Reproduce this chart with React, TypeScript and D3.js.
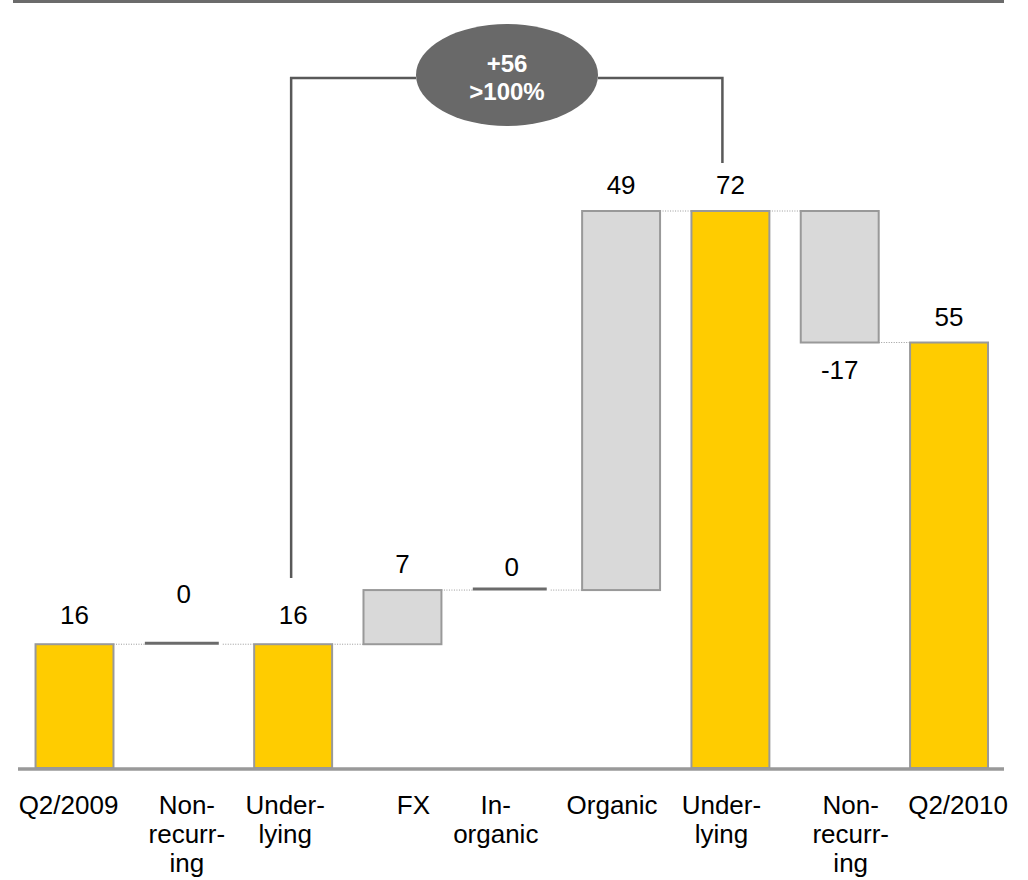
import React from "react";
import * as d3 from "d3";

const categories = ["Q2/2009", "Non-\nrecurr-\ning", "Under-\nlying", "FX", "In-\norganic", "Organic", "Under-\nlying", "Non-\nrecurr-\ning", "Q2/2010"];
const values = [16, 0, 16, 7, 0, 49, 72, -17, 55];
const kinds = ["total", "delta", "total", "delta", "delta", "delta", "total", "delta", "total"];
const valueLabels = ["16", "0", "16", "7", "0", "49", "72", "-17", "55"];
const bracketText = ["+56", ">100%"];

// layout tweaks (pixels), not data
const labelDx = [-6, 3, -8, 11, -16, -9, -9, 11, 9];
const valueDy = [-3, -24, -3, 0, 3, 0, 0, 0, 0];

const W = 1028;
const H = 880;
const FONT = "Arial, 'Liberation Sans', sans-serif";

export default function App() {
  const x = d3
    .scaleBand<number>()
    .domain(values.map((_, i) => i))
    .range([19.85, 1003.7])
    .paddingInner(0.287)
    .paddingOuter(0.1435);
  const y = d3.scaleLinear().domain([0, 72]).range([768, 211]);
  const bw = x.bandwidth();

  let running = 0;
  const bars = values.map((v, i) => {
    let lo: number, hi: number;
    if (kinds[i] === "total") {
      lo = 0;
      hi = v;
      running = v;
    } else {
      lo = running;
      hi = running + v;
      running = hi;
    }
    return { i, v, lo, hi, end: running, kind: kinds[i] };
  });

  const cx = (i: number) => (x(i) as number) + bw / 2;

  // bracket geometry
  const ell = { cx: 507, cy: 75, rx: 91, ry: 51 };
  const bracketY = 78;
  const leftX = cx(2) - 2;
  const rightX = cx(6) - 8;
  const leftEnd = 578;
  const rightEnd = 163;

  return (
    <svg width={W} height={H} style={{ position: "absolute", left: 0, top: 0, background: "#fff" }} fontFamily={FONT}>
      {/* top rule */}
      <rect x={13} y={0} width={991} height={3} fill="#6b6b6b" />

      {/* connectors */}
      {bars.slice(0, -1).map((b, k) => {
        const x1 = (x(b.i) as number) + bw;
        const x2 = x(b.i + 1) as number;
        const yy = y(b.end);
        return (
          <line key={"c" + k} x1={x1} x2={x2} y1={yy} y2={yy} stroke="#9a9a9a" strokeWidth={1} strokeDasharray="1,1.5" />
        );
      })}

      {/* bars */}
      {bars.map((b) => {
        const x0 = x(b.i) as number;
        if (b.v === 0) {
          return <line key={"b" + b.i} x1={x0} x2={x0 + bw - 4} y1={y(b.hi) - 1} y2={y(b.hi) - 1} stroke="#6b6b6b" strokeWidth={3} />;
        }
        const top = y(Math.max(b.lo, b.hi));
        const bot = y(Math.min(b.lo, b.hi));
        return (
          <rect
            key={"b" + b.i}
            x={x0}
            y={top}
            width={bw}
            height={bot - top}
            fill={b.kind === "total" ? "#FFCC00" : "#D9D9D9"}
            stroke="#999999"
            strokeWidth={2}
          />
        );
      })}

      {/* baseline */}
      <line x1={18} x2={1004} y1={769} y2={769} stroke="#999999" strokeWidth={3.5} />

      {/* value labels */}
      {bars.map((b) => {
        const neg = b.v < 0;
        const yy = neg ? y(b.hi) + 36 : y(Math.max(b.lo, b.hi)) - 17 + valueDy[b.i];
        return (
          <text key={"v" + b.i} x={cx(b.i)} y={yy} textAnchor="middle" fontSize={26} fill="#000">
            {valueLabels[b.i]}
          </text>
        );
      })}

      {/* category labels */}
      {categories.map((c, i) => (
        <text key={"l" + i} x={cx(i) + labelDx[i]} y={814} textAnchor="middle" fontSize={26} fill="#000">
          {c.split("\n").map((ln, j) => (
            <tspan key={j} x={cx(i) + labelDx[i]} dy={j === 0 ? 0 : 29}>
              {ln}
            </tspan>
          ))}
        </text>
      ))}

      {/* bracket */}
      <polyline
        points={`${leftX},${leftEnd} ${leftX},${bracketY} ${ell.cx - ell.rx},${bracketY}`}
        fill="none"
        stroke="#595959"
        strokeWidth={2.5}
      />
      <polyline
        points={`${ell.cx + ell.rx},${bracketY} ${rightX},${bracketY} ${rightX},${rightEnd}`}
        fill="none"
        stroke="#595959"
        strokeWidth={2.5}
      />
      <ellipse cx={ell.cx} cy={ell.cy} rx={ell.rx} ry={ell.ry} fill="#696969" />
      <text x={ell.cx} y={72} textAnchor="middle" fontSize={24} fontWeight="bold" fill="#fff">
        {bracketText[0]}
      </text>
      <text x={ell.cx} y={100} textAnchor="middle" fontSize={24} fontWeight="bold" fill="#fff">
        {bracketText[1]}
      </text>
    </svg>
  );
}
